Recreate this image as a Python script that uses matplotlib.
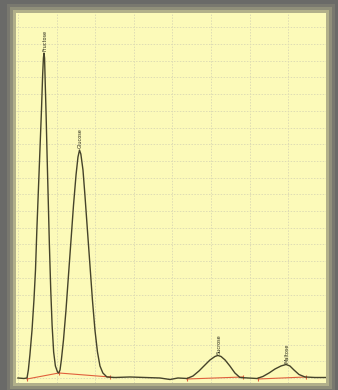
import matplotlib
matplotlib.use("Agg")
import matplotlib.pyplot as plt

# chromatogram trace (time in min, signal in mV)
trace_t = [0.00, 0.31, 0.47, 0.54, 0.62, 0.73, 0.83, 0.91, 0.98, 1.06, 1.14, 1.22,
           1.28, 1.32, 1.35, 1.38, 1.41, 1.46, 1.51, 1.57, 1.63, 1.70, 1.77, 1.85,
           1.94, 2.05, 2.11, 2.18, 2.25, 2.36, 2.49, 2.62, 2.75, 2.88, 3.01, 3.11,
           3.19, 3.26, 3.37, 3.47, 3.60, 3.73, 3.86, 3.99, 4.12, 4.25, 4.40, 4.61,
           5.03, 5.80, 6.58, 7.36, 7.88, 8.29, 8.76, 9.07, 9.38, 9.69, 9.95, 10.21,
           10.36, 10.52, 10.73, 10.98, 11.24, 11.50, 11.92, 12.38, 12.69, 13.01,
           13.32, 13.63, 13.89, 14.09, 14.30, 14.56, 14.87, 15.39, 16.01]
trace_mv = [0.0, -0.3, 0.0, 4.8, 13.8, 28.7, 46.7, 64.7, 88.6, 112.6, 136.5, 160.5,
            181.4, 191.6, 194.6, 191.6, 178.4, 157.5, 133.5, 106.6, 79.6, 52.7, 31.7, 15.6,
            7.2, 3.6, 3.0, 4.8, 10.8, 22.8, 40.7, 61.7, 82.6, 103.6, 121.6, 132.3,
            136.5, 134.1, 124.6, 109.6, 88.6, 67.7, 46.7, 28.7, 15.6, 7.2, 3.0, 0.6,
            0.3, 0.6, 0.3, 0.0, -0.9, 0.0, -0.3, 1.2, 4.2, 7.8, 10.8, 12.9,
            13.5, 12.9, 10.8, 7.2, 3.0, 0.3, 0.0, -0.3, 0.9, 3.0,
            5.4, 7.2, 8.1, 7.2, 4.8, 2.1, 0.6, 0.3, 0.3]

# peak labels
peak_names = ["Fructose", "Glucose", "Sucrose", "Maltose"]
peak_t = [1.35, 3.19, 10.36, 13.89]
peak_mv = [194.6, 136.5, 13.5, 8.1]

# integration baselines (red)
base_segments = [
    ([0.47, 2.12, 4.77], [-0.6, 3.0, 0.6]),
    ([8.76, 11.66], [-0.6, 0.6]),
    ([12.44, 14.92], [-0.6, 0.6]),
]

W, H = 338, 390
fig = plt.figure(figsize=(W / 100, H / 100), dpi=100)
fig.patch.set_facecolor("#6a6a68")

# soft glow around the paper, kept behind the axes
left, right, top, bottom = 16, 326, 13, 383
for pad, a in [(9, 0.12), (6, 0.22), (3, 0.4)]:
    r = plt.Rectangle(((left - pad) / W, (H - bottom - pad) / H),
                      (right - left + 2 * pad) / W, (bottom - top + 2 * pad) / H,
                      transform=fig.transFigure, color="#e6e4a4", alpha=a, lw=0)
    r.set_zorder(-5)
    fig.patches.append(r)

ax = fig.add_axes([left / W, (H - bottom) / H, (right - left) / W, (bottom - top) / H])
ax.set_zorder(5)
ax.set_facecolor("#fcfab9")
ax.set_xlim(-0.1, 15.96)
ax.set_ylim(-3.0, 218.6)

ax.set_xticks([0, 2, 4, 6, 8, 10, 12, 14])
ax.set_yticks(range(0, 220, 10))
ax.grid(True, color="#dedcb4", linestyle=(0, (1.5, 1.5)), linewidth=0.7)
ax.tick_params(length=0, labelbottom=False, labelleft=False)
for s in ax.spines.values():
    s.set_visible(False)

for xs, ys in base_segments:
    ax.plot(xs, ys, color="#e0603c", lw=0.8, marker="|", ms=3, mew=0.8, zorder=2)

ax.plot(trace_t, trace_mv, color="#45432a", lw=1.0, zorder=3)

for name, t, v in zip(peak_names, peak_t, peak_mv):
    ax.text(t + 0.05, v + 1, name, rotation=90, fontsize=3.6, color="#2a2a1c",
            ha="center", va="bottom", zorder=4)

fig.savefig("out.png", dpi=100, facecolor=fig.get_facecolor())
